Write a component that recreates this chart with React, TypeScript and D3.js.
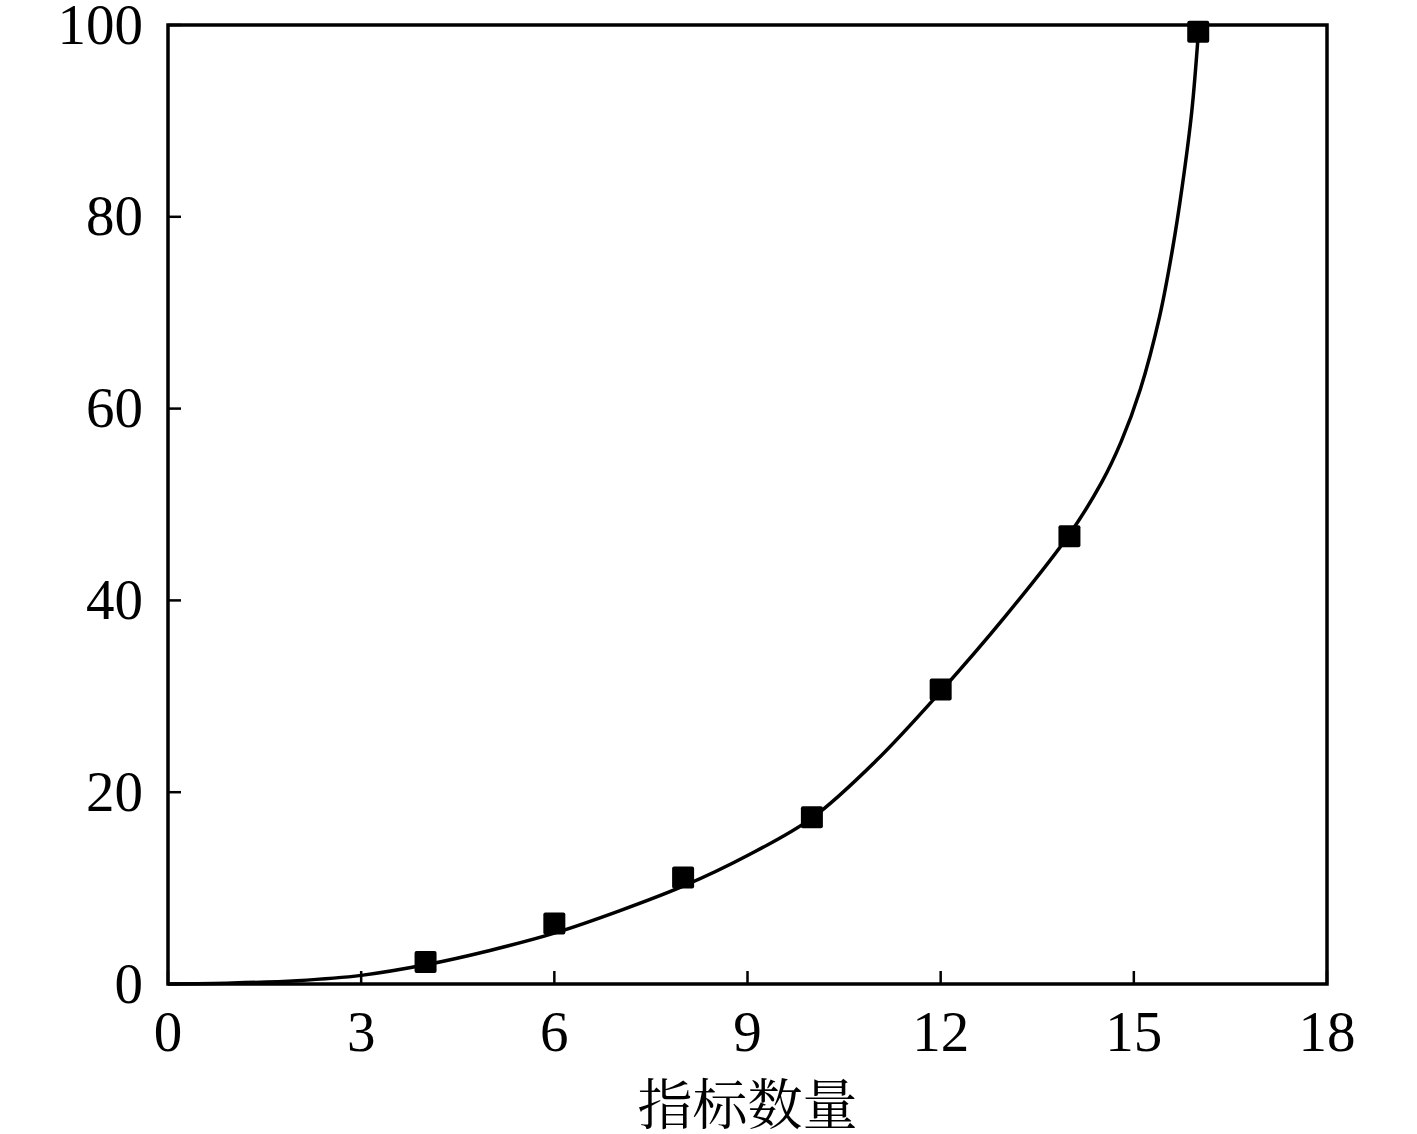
import React from "react";
import * as d3 from "d3";

const xTicks = [0, 3, 6, 9, 12, 15, 18];
const yTicks = [0, 20, 40, 60, 80, 100];

// measured data points (指标数量 vs value)
const pointX = [4, 6, 8, 10, 12, 14, 16];
const pointY = [2.3, 6.3, 11.1, 17.4, 30.7, 46.7, 99.3];

// fitted curve
const curveX = [0, 1, 2, 3, 4, 5, 6, 7, 8, 9, 10, 11, 12, 13, 14, 14.5, 14.8, 15.1, 15.4, 15.6, 15.75, 15.9, 16];
const curveY = [0, 0.1, 0.35, 0.9, 2.0, 3.5, 5.3, 7.6, 10.2, 13.4, 17.3, 23.3, 30.5, 38.3, 46.9, 52.3, 56.5, 62.0, 69.6, 76.6, 83.1, 91.0, 99.0];

const xLabel = "指标数量";

const W = 1417;
const H = 1134;
const left = 168;
const right = 1327;
const top = 25;
const bottom = 984;

export default function App() {
  const x = d3.scaleLinear().domain([0, 18]).range([left, right]);
  const y = d3.scaleLinear().domain([0, 100]).range([bottom, top]);

  const line = d3
    .line<[number, number]>()
    .x((d) => x(d[0]))
    .y((d) => y(d[1]))
    .curve(d3.curveCatmullRom.alpha(0.5));
  const curveData: [number, number][] = curveX.map((v, i) => [v, curveY[i]]);
  const path = line(curveData) || "";

  const font = "'Liberation Serif', 'Times New Roman', serif";
  const fs = 57;
  const sq = 22;

  return (
    <svg
      width={W}
      height={H}
      style={{ position: "absolute", left: 0, top: 0, background: "#fff" }}
    >
      <rect x={0} y={0} width={W} height={H} fill="#fff" />
      {/* ticks */}
      {yTicks.map((t) => (
        <line key={"yt" + t} x1={left} x2={left + 13} y1={y(t)} y2={y(t)} stroke="#000" strokeWidth={2.5} />
      ))}
      {xTicks.map((t) => (
        <line key={"xt" + t} x1={x(t)} x2={x(t)} y1={bottom} y2={bottom - 13} stroke="#000" strokeWidth={2.5} />
      ))}
      {/* curve */}
      <path d={path} fill="none" stroke="#000" strokeWidth={3.5} />
      {/* frame */}
      <rect x={left} y={top} width={right - left} height={bottom - top} fill="none" stroke="#000" strokeWidth={3.5} />
      {/* points */}
      {pointX.map((px, i) => (
        <rect
          key={"p" + i}
          x={x(px) - sq / 2}
          y={y(pointY[i]) - sq / 2}
          width={sq}
          height={sq}
          rx={2}
          fill="#000"
        />
      ))}
      {/* y labels */}
      {yTicks.map((t) => (
        <text
          key={"yl" + t}
          x={left - 25}
          y={y(t) - 1}
          textAnchor="end"
          dominantBaseline="central"
          fontFamily={font}
          fontSize={fs}
          fill="#000"
        >
          {t}
        </text>
      ))}
      {/* x labels */}
      {xTicks.map((t) => (
        <text
          key={"xl" + t}
          x={x(t)}
          y={bottom + 47}
          textAnchor="middle"
          dominantBaseline="central"
          fontFamily={font}
          fontSize={fs}
          fill="#000"
        >
          {t}
        </text>
      ))}
      <text
        x={(left + right) / 2}
        y={1100}
        textAnchor="middle"
        dominantBaseline="central"
        fontFamily="'Noto Serif CJK SC', 'Noto Sans CJK SC', serif"
        fontSize={55}
        fill="#000"
      >
        {xLabel}
      </text>
    </svg>
  );
}
